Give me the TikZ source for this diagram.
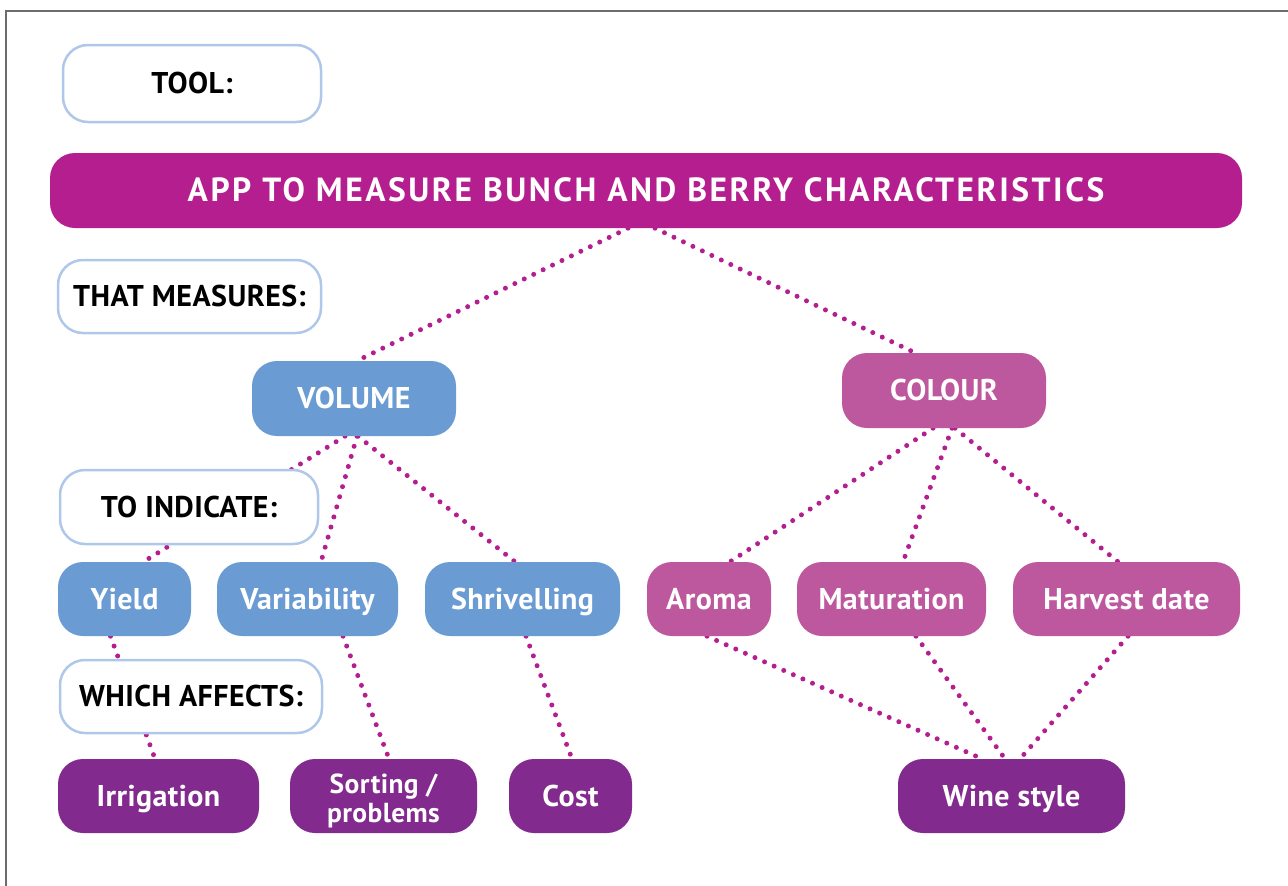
\documentclass[tikz,border=0pt]{standalone}
\usepackage{fontspec}
\setmainfont{PT Sans}
\usetikzlibrary{backgrounds}
\definecolor{appmag}{HTML}{B41E8E}
\definecolor{volblue}{HTML}{6A9BD3}
\definecolor{colpink}{HTML}{BD579E}
\definecolor{effpurple}{HTML}{822A8E}
\definecolor{labelrim}{HTML}{AFC8E9}
\definecolor{framegray}{HTML}{6D6D6D}
\tikzset{
  box/.style={rounded corners=25pt, inner sep=0pt, align=center,
    text height=24pt, text depth=4pt,
    font=\bfseries\fontsize{30}{31}\selectfont\addfontfeature{LetterSpace=1.5}},
  label/.style={box, draw=labelrim, line width=2.5pt, fill=white, text=black},
  appbox/.style={box, fill=appmag, text=white, text height=26pt,
    font=\bfseries\fontsize{33.5}{35}\selectfont\addfontfeature{LetterSpace=7.5}},
  volbox/.style={box, fill=volblue, text=white},
  colbox/.style={box, fill=colpink, text=white},
  effbox/.style={box, fill=effpurple, text=white},
  link/.style={draw=appmag, line width=5pt, line cap=round,
    dash pattern=on 0pt off 10.5pt},
}
\begin{document}
\begin{tikzpicture}[x=1pt, y=-1pt]
  \useasboundingbox (0,0) rectangle (1288,886);
  \draw[framegray, line width=1.5pt] (6,886) -- (6,11) -- (1288,11);

  % row labels
  \node[label, minimum width=258pt, minimum height=77pt] (tool) at (192,83.5) {TOOL:};
  \node[label, minimum width=263pt, minimum height=73pt] (measures) at (189.5,296.5) {THAT MEASURES:};
  \node[label, minimum width=258pt, minimum height=74pt] (indicate) at (189,507) {TO INDICATE:};
  \node[label, minimum width=262pt, minimum height=73pt] (affects) at (191,696.5) {WHICH AFFECTS:};

  \node[appbox, minimum width=1192pt, minimum height=75pt] (app) at (646,190.5) {APP TO MEASURE BUNCH AND BERRY CHARACTERISTICS};

  % what is measured
  \node[volbox, minimum width=204pt, minimum height=75pt] (volume) at (354,398.5) {VOLUME};
  \node[colbox, minimum width=204pt, minimum height=75pt] (colour) at (944,390.5) {COLOUR};

  % what it indicates
  \node[volbox, minimum width=133pt, minimum height=74pt] (yield) at (124.5,599) {Yield};
  \node[volbox, minimum width=181pt, minimum height=74pt] (variability) at (307.5,599) {Variability};
  \node[volbox, minimum width=195pt, minimum height=74pt] (shrivelling) at (522.5,599) {Shrivelling};
  \node[colbox, minimum width=124pt, minimum height=74pt] (aroma) at (709,599) {Aroma};
  \node[colbox, minimum width=189pt, minimum height=74pt] (maturation) at (891.5,599) {Maturation};
  \node[colbox, minimum width=227pt, minimum height=74pt] (harvest) at (1126.5,599) {Harvest date};

  % what that affects
  \node[effbox, minimum width=201pt, minimum height=74pt] (irrigation) at (158.5,796) {Irrigation};
  \node[effbox, minimum width=187pt, minimum height=74pt, text height=, text depth=,
    font=\bfseries\fontsize{27.5}{28.5}\selectfont\addfontfeature{LetterSpace=1.5}] (sorting) at (383.5,796) {\rule{0pt}{29pt}Sorting /\\problems};
  \node[effbox, minimum width=123pt, minimum height=74pt] (cost) at (570.5,796) {Cost};
  \node[effbox, minimum width=227pt, minimum height=74pt] (wine) at (1011.5,796) {Wine style};

  \begin{scope}[on background layer]
    \draw[link] ([xshift=-18pt]app.south) -- ([xshift=3pt]volume.north);
    \draw[link] ([xshift=9pt]app.south) -- ([xshift=-29pt]colour.north);

    \draw[link] ([xshift=-9pt]volume.south) -- ([xshift=19pt]yield.north);
    \draw[link] ([xshift=3pt]volume.south) -- ([xshift=13.5pt]variability.north);
    \draw[link] ([xshift=4pt]volume.south) -- ([xshift=-7.5pt]shrivelling.north);
    \draw[link] ([xshift=-11pt]colour.south) -- ([xshift=21pt]aroma.north);
    \draw[link] ([xshift=8pt]colour.south) -- ([xshift=11.5pt]maturation.north);
    \draw[link] ([xshift=11pt]colour.south) -- ([xshift=-8.5pt]harvest.north);

    \draw[link] ([xshift=-14pt]yield.south) -- ([xshift=-3.5pt]irrigation.north);
    \draw[link] ([xshift=35.5pt]variability.south) -- ([xshift=5.5pt]sorting.north);
    \draw[link] ([xshift=3.5pt]shrivelling.south) -- ([xshift=1.5pt]cost.north);
    \draw[link] ([xshift=-2pt]aroma.south) -- ([xshift=-29.5pt]wine.north);
    \draw[link] ([xshift=24.5pt]maturation.south) -- ([xshift=-6.5pt]wine.north);
    \draw[link] ([xshift=1.5pt]harvest.south) -- ([xshift=8.5pt]wine.north);
  \end{scope}
\end{tikzpicture}
\end{document}
